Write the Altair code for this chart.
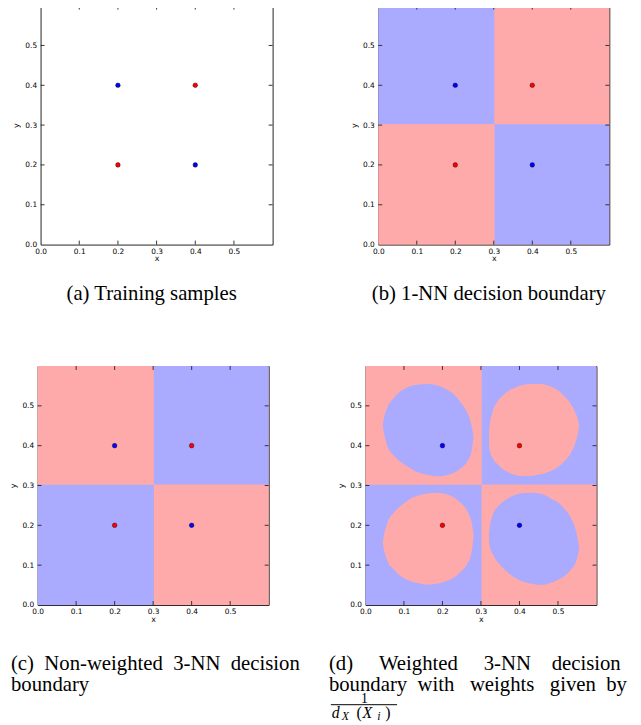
import altair as alt
import pandas as pd

# ---------------- data ----------------
sample_x = [0.2, 0.4, 0.2, 0.4]
sample_y = [0.4, 0.4, 0.2, 0.2]
sample_cls = ["blue", "red", "red", "blue"]

axis_ticks = [0.0, 0.1, 0.2, 0.3, 0.4, 0.5]
edge_ticks = [0.1, 0.2, 0.3, 0.4, 0.5]

# quadrant decision regions (top-left, top-right, bottom-left, bottom-right)
quad_x1 = [0.0, 0.302, 0.0, 0.302]
quad_x2 = [0.302, 0.6, 0.302, 0.6]
quad_y1 = [0.302, 0.302, 0.0, 0.0]
quad_y2 = [0.6, 0.6, 0.302, 0.302]
quad_cls_1nn = ["blue", "red", "red", "blue"]
quad_cls_3nn = ["red", "blue", "blue", "red"]

# weighted 3-NN islands: x, lower edge, upper edge
blob1_x = [0.045, 0.047, 0.057, 0.074, 0.092, 0.109, 0.134, 0.160, 0.185, 0.211, 0.233, 0.250, 0.265, 0.275, 0.279, 0.281]
blob1_lo = [0.450, 0.438, 0.400, 0.375, 0.359, 0.348, 0.334, 0.327, 0.323, 0.326, 0.333, 0.345, 0.361, 0.384, 0.409, 0.421]
blob1_hi = [0.450, 0.463, 0.496, 0.520, 0.537, 0.547, 0.553, 0.555, 0.552, 0.541, 0.526, 0.505, 0.481, 0.454, 0.433, 0.421]

blob2_x = [0.3205, 0.322, 0.331, 0.344, 0.361, 0.378, 0.403, 0.429, 0.455, 0.480, 0.502, 0.519, 0.534, 0.546, 0.553, 0.555]
blob2_lo = [0.419, 0.392, 0.367, 0.353, 0.338, 0.330, 0.324, 0.324, 0.328, 0.336, 0.348, 0.363, 0.382, 0.409, 0.437, 0.450]
blob2_hi = [0.419, 0.446, 0.487, 0.512, 0.530, 0.541, 0.551, 0.555, 0.555, 0.549, 0.537, 0.522, 0.504, 0.481, 0.462, 0.450]

blob3_x = [0.045, 0.047, 0.057, 0.074, 0.092, 0.109, 0.134, 0.160, 0.185, 0.211, 0.233, 0.250, 0.265, 0.275, 0.279, 0.281]
blob3_lo = [0.156, 0.144, 0.111, 0.089, 0.072, 0.063, 0.055, 0.051, 0.053, 0.060, 0.071, 0.086, 0.104, 0.130, 0.156, 0.175]
blob3_hi = [0.156, 0.169, 0.206, 0.232, 0.249, 0.262, 0.274, 0.280, 0.282, 0.278, 0.268, 0.254, 0.235, 0.210, 0.189, 0.175]

blob4_x = [0.3205, 0.322, 0.331, 0.344, 0.361, 0.378, 0.403, 0.429, 0.455, 0.480, 0.502, 0.519, 0.534, 0.546, 0.553, 0.555]
blob4_lo = [0.170, 0.152, 0.127, 0.107, 0.089, 0.075, 0.061, 0.054, 0.050, 0.055, 0.064, 0.074, 0.089, 0.107, 0.132, 0.145]
blob4_hi = [0.170, 0.189, 0.227, 0.247, 0.262, 0.272, 0.280, 0.282, 0.279, 0.268, 0.256, 0.239, 0.218, 0.189, 0.156, 0.145]

blob_cls = ["blue", "red", "red", "blue"]

NB = "\u00a0"
cap_a = "(a) Training samples"
cap_b = "(b) 1-NN decision boundary"
cap_c = ["(c)" + NB * 2 + "Non-weighted" + NB * 2 + "3-NN" + NB * 2 + "decision", "boundary"]
cap_d = ["(d)" + NB * 5 + "Weighted" + NB * 5 + "3-NN" + NB * 4 + "decision",
         "boundary" + NB * 2 + "with" + NB * 3 + "weights" + NB * 3 + "given" + NB * 2 + "by"]
frac_num = "1"
frac_den = ["d", "X", "(", "X", "i", ")"]

# ---------------- chart ----------------
H = 242
TICK = "#333333"
RED_BG = "#FFAAAA"
XS = alt.Scale(domain=[0, 0.6], nice=False, zero=False)
YS = alt.Scale(domain=[0, 0.6], nice=False, zero=False)
XA = alt.Axis(values=axis_ticks, format=".1f", title="x", ticks=False, tickSize=0,
              domain=False, grid=False, labelFlush=False, labelOverlap=False,
              labelPadding=3, titlePadding=0)
YA = alt.Axis(values=axis_ticks, format=".1f", title="y", ticks=False, tickSize=0,
              domain=False, grid=False, labelFlush=False, labelOverlap=False,
              labelPadding=4, titlePadding=4)
FILL = alt.Scale(domain=["red", "blue"], range=[RED_BG, "#AAAAFF"])
DOT = alt.Scale(domain=["red", "blue"], range=["#FF0000", "#0000FF"])

df_pts = pd.DataFrame({"px": sample_x, "py": sample_y, "cls": sample_cls})
df_t = pd.DataFrame({"t": edge_ticks})
dummy = pd.DataFrame({"k": [0]})

blob_rows = []
for name, xs, lo, hi, c in [("b1", blob1_x, blob1_lo, blob1_hi, blob_cls[0]),
                            ("b2", blob2_x, blob2_lo, blob2_hi, blob_cls[1]),
                            ("b3", blob3_x, blob3_lo, blob3_hi, blob_cls[2]),
                            ("b4", blob4_x, blob4_lo, blob4_hi, blob_cls[3])]:
    for a, b, t in zip(xs, lo, hi):
        blob_rows.append({"blob": name, "bx": a, "lo": b, "hi": t, "cls": c})
df_blobs = pd.DataFrame(blob_rows)


def tick_layers(w):
    base = alt.Chart(df_t).mark_rule(color=TICK, strokeWidth=1)
    return [
        base.encode(x=alt.X("t:Q", scale=XS, axis=XA), y=alt.value(H), y2=alt.value(H - 4)),
        base.encode(x=alt.X("t:Q", scale=XS, axis=XA), y=alt.value(0), y2=alt.value(4)),
        base.encode(y=alt.Y("t:Q", scale=YS, axis=YA), x=alt.value(0), x2=alt.value(4)),
        base.encode(y=alt.Y("t:Q", scale=YS, axis=YA), x=alt.value(w), x2=alt.value(w - 4)),
    ]


def txt(s, x, y, size, italic=False, align="left"):
    return alt.Chart(dummy).mark_text(text=s, font="Liberation Serif", fontSize=size,
                                      fontStyle="italic" if italic else "normal",
                                      align=align, baseline="alphabetic", color="black",
                                      lineHeight=21).encode(
        x=alt.value(x), y=alt.value(y))


def extent(left, right, bottom):
    # invisible guides that fix how much room each panel takes in the layout
    return [
        alt.Chart(dummy).mark_rule(opacity=0).encode(
            x=alt.value(left), x2=alt.value(right), y=alt.value(H / 2)),
        alt.Chart(dummy).mark_rule(opacity=0).encode(
            x=alt.value(100), y=alt.value(H / 2), y2=alt.value(bottom)),
    ]


def panel(w, cls=None, blobs=False, extra=None):
    layers = []
    if cls is not None:
        dq = pd.DataFrame({"x1": quad_x1, "x2": quad_x2, "y1": quad_y1, "y2": quad_y2, "cls": cls})
        layers.append(alt.Chart(dq).mark_rect(strokeWidth=0).encode(
            x=alt.X("x1:Q", scale=XS, axis=XA), x2="x2:Q",
            y=alt.Y("y1:Q", scale=YS, axis=YA), y2="y2:Q",
            fill=alt.Fill("cls:N", scale=FILL, legend=None)))
    if blobs:
        layers.append(alt.Chart(df_blobs).mark_area(interpolate="monotone").encode(
            x=alt.X("bx:Q", scale=XS, axis=XA),
            y=alt.Y("lo:Q", scale=YS, axis=YA), y2="hi:Q",
            fill=alt.Fill("cls:N", scale=FILL, legend=None),
            detail="blob:N"))
    layers += tick_layers(w)
    layers.append(alt.Chart(df_pts).mark_circle(size=22, opacity=1, stroke="black", strokeWidth=0.4).encode(
        x=alt.X("px:Q", scale=XS, axis=XA),
        y=alt.Y("py:Q", scale=YS, axis=YA),
        color=alt.Color("cls:N", scale=DOT, legend=None)))
    layers += extra or []
    view = alt.ViewBackground(fill=RED_BG if cls is not None else "white", stroke="#222222", strokeWidth=1)
    return alt.layer(*layers).properties(width=w, height=H, view=view)


def spacer():
    return alt.Chart(dummy).mark_point(opacity=0, size=1).encode(
        x=alt.value(0.5), y=alt.value(100)).properties(
        width=1, height=H, view=alt.ViewBackground(stroke="transparent", strokeWidth=0))


pa = panel(235, extra=[txt(cap_a, 112.5, 298.5, 21, align="center")] + extent(-31, 240, 330))
pb = panel(234, cls=quad_cls_1nn,
           extra=[txt(cap_b, 112, 298.5, 21, align="center")] + extent(-30, 240, 330))
pc = panel(234, cls=quad_cls_3nn,
           extra=[txt(cap_c, -27, 307.7, 21)] + extent(-27, 280, 330))
pdd = panel(234, cls=quad_cls_3nn, blobs=True,
            extra=[txt(cap_d, -37, 307.7, 21),
                   txt(frac_num, -1, 341, 14, align="center"),
                   alt.Chart(dummy).mark_rule(color="black", strokeWidth=1).encode(
                       x=alt.value(-35), x2=alt.value(32), y=alt.value(343)),
                   txt(frac_den[0], -34, 356, 16, True),
                   txt(frac_den[1], -24, 359, 12, True),
                   txt(frac_den[2], -9, 356, 16),
                   txt(frac_den[3], -3, 356, 16, True),
                   txt(frac_den[4], 12, 359, 12, True),
                   txt(frac_den[5], 20, 356, 16)] + extent(-40, 270, 330))

row1 = alt.hconcat(spacer(), alt.hconcat(pa, pb, spacing=70), spacing=0)
row2 = alt.hconcat(spacer(), alt.hconcat(pc, pdd, spacing=10), spacing=0)

chart = alt.vconcat(row1, row2, spacing=33).properties(
    padding={"top": -8, "left": 0, "right": 0, "bottom": 0}
).configure_axis(
    labelFont="DejaVu Sans", labelFontSize=7.5, labelColor="black",
    titleFont="DejaVu Sans", titleFontSize=8, titleFontWeight="normal", titleColor="black")

chart.save("out.html", embed_options={"renderer": "svg", "actions": False})
